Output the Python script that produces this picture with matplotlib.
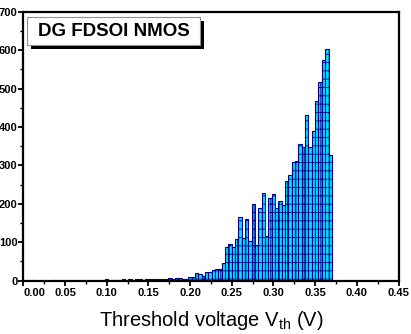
import matplotlib
matplotlib.use('Agg')
import matplotlib.pyplot as plt
from matplotlib.patches import Rectangle
from matplotlib.ticker import MultipleLocator

plt.rcParams['font.family'] = ['Liberation Sans', 'DejaVu Sans']
plt.rcParams['mathtext.fontset'] = 'custom'
plt.rcParams['mathtext.rm'] = 'Liberation Sans'
plt.rcParams['hatch.linewidth'] = 0.6

# histogram of Vth, bins of 4 mV (bin centre = 0.004*k)
bin_width = 0.004
counts = [0, 1, 0, 1, 0, 0, 1, 0, 0, 1,
          0, 0, 0, 0, 0, 0, 0, 0, 0, 0,
          0, 0, 0, 0, 0, 3, 2, 2, 1, 2,
          3, 2, 3, 2, 3, 3, 2, 3, 4, 3,
          4, 5, 4, 3, 6, 5, 7, 6, 4, 3,
          8, 10, 19, 16, 13, 21, 22, 28, 29, 29,
          45, 88, 94, 88, 107, 166, 112, 159, 104, 199,
          92, 190, 229, 117, 214, 225, 189, 208, 196, 260,
          275, 308, 310, 355, 348, 431, 349, 389, 467, 517,
          575, 602, 328]
centers = [bin_width * k for k in range(len(counts))]

xticks = [0.00, 0.05, 0.10, 0.15, 0.20, 0.25, 0.30, 0.35, 0.40, 0.45]
yticks = [0, 100, 200, 300, 400, 500, 600, 700]

fig = plt.figure(figsize=(4.11, 3.34), dpi=100)
ax = fig.add_axes([0.0567, 0.160, 0.913, 0.805])

ax.bar(centers, counts, width=bin_width, color='#00E0FF', edgecolor='#000088',
       linewidth=0.8, hatch='++')

ax.set_xlim(0, 0.45)
ax.set_ylim(0, 700)
ax.set_xticks(xticks)
ax.set_xticklabels(['%.2f' % t for t in xticks])
ax.set_yticks(yticks)
ax.xaxis.set_minor_locator(MultipleLocator(0.025))
ax.yaxis.set_minor_locator(MultipleLocator(50))

for s in ax.spines.values():
    s.set_linewidth(1.6)
ax.tick_params(which='major', direction='out', length=3.5, width=1.3, labelsize=8)
ax.tick_params(axis='x', which='major', pad=2)
ax.tick_params(axis='y', which='major', pad=0.6)
ax.tick_params(which='minor', direction='out', length=2.2, width=1.0)
for lab in ax.get_xticklabels() + ax.get_yticklabels():
    lab.set_fontweight('bold')
ax.get_xticklabels()[0].set_horizontalalignment('left')

ax.set_xlabel(r'Threshold voltage V$_{\mathrm{th}}$ (V)', fontsize=14.5)
ax.xaxis.set_label_coords(0.5, -0.105)

# label box with shadow
fig.patches.append(Rectangle((31.3 / 411, 1 - 49 / 334), 172.7 / 411, 27.7 / 334,
                             transform=fig.transFigure, facecolor='black',
                             edgecolor='none', zorder=5))
fig.patches.append(Rectangle((27.3 / 411, 1 - 45 / 334), 172.7 / 411, 27.7 / 334,
                             transform=fig.transFigure, facecolor='white',
                             edgecolor='#909090', linewidth=0.8, zorder=6))
fig.text(113.6 / 411, 1 - 31.5 / 334, 'DG FDSOI NMOS', fontsize=13.5, fontweight='bold',
         ha='center', va='center', zorder=7)

fig.savefig('out.png', dpi=100)
